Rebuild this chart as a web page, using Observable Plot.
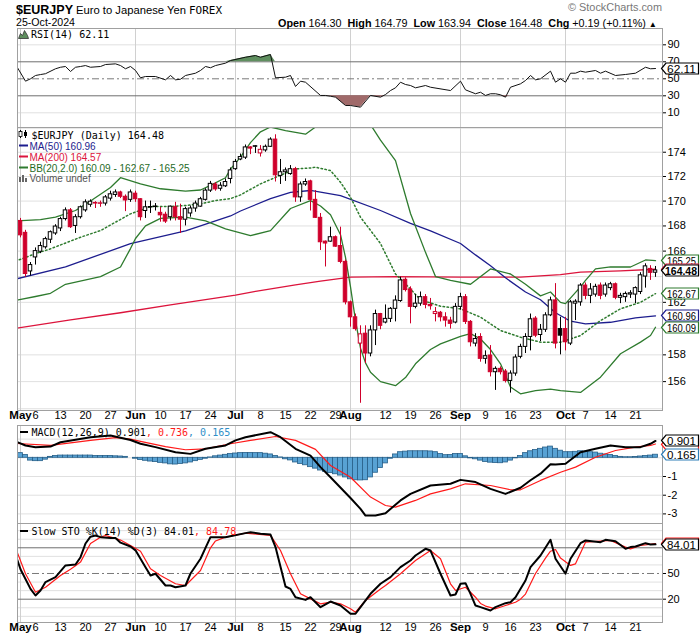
<!DOCTYPE html>
<html><head><meta charset="utf-8">
<script src="https://cdn.jsdelivr.net/npm/d3@7"></script>
<script src="https://cdn.jsdelivr.net/npm/@observablehq/plot@0.6"></script>
<style>
html,body{margin:0;padding:0;background:#fff;}
#chart{position:relative;width:700px;height:639px;overflow:hidden;background:#fff;}
#chart svg{position:absolute;left:0;}
</style></head><body><div id="chart"></div>
<script>
// ---------------- DATA ----------------
// trading-day index 0 = 1 May 2024 ... 127 = 25 Oct 2024
const prevClose = 168.50;
const openP = [168.40,167.45,164.40,165.50,165.95,166.30,166.90,167.40,167.80,168.55,
169.25,168.00,168.70,169.25,169.70,169.80,169.78,169.80,170.20,170.50,
170.70,170.35,170.10,170.60,170.15,169.20,169.48,169.52,169.05,168.90,
168.70,169.50,168.70,168.50,169.00,169.40,169.55,170.10,170.85,171.35,
171.00,171.20,171.80,172.60,173.40,173.55,174.40,174.45,173.90,174.15,
174.45,175.05,172.05,172.35,172.20,172.60,170.30,171.35,171.60,170.10,
168.65,166.75,166.75,167.10,166.40,165.15,162.00,160.85,158.85,159.60,
158.10,159.85,161.10,160.45,160.73,161.50,162.10,163.75,163.00,161.65,
161.90,162.40,161.80,161.10,161.20,160.85,160.60,160.45,161.65,162.40,
160.50,158.85,159.35,157.70,157.95,156.70,156.95,156.75,156.05,156.60,
157.85,158.60,159.35,160.75,159.50,159.90,161.00,162.15,159.95,159.95,
158.85,161.90,162.00,163.30,162.50,162.60,163.30,162.60,163.10,163.40,
162.35,162.40,162.60,162.60,162.80,164.00,164.60,164.30];
const highP = [168.60,167.65,165.10,166.25,166.70,167.10,167.60,168.10,168.70,169.45,
169.40,168.90,169.60,170.10,170.10,169.95,170.00,170.45,170.80,170.90,
170.80,170.50,170.90,170.80,170.20,170.00,170.00,169.80,169.50,169.10,
169.60,169.90,169.75,169.50,169.60,170.00,170.30,171.00,171.60,171.50,
171.50,171.80,172.70,173.40,173.85,174.60,174.45,174.55,174.55,174.60,
175.20,175.45,173.40,172.70,172.90,172.75,171.55,171.80,171.70,170.85,
169.00,166.80,167.90,167.20,167.90,165.30,162.10,161.10,160.20,160.20,
160.20,161.40,161.15,161.80,161.60,162.50,163.95,163.90,163.20,162.60,
162.80,162.60,162.30,161.60,161.30,161.20,160.85,161.90,162.70,162.60,
160.60,159.60,159.60,158.30,158.70,157.10,157.10,156.90,156.80,158.00,
158.80,159.60,161.10,160.90,160.30,161.20,162.40,163.45,160.85,160.85,
162.15,162.20,163.45,163.50,163.45,163.40,163.50,163.50,163.55,163.50,
162.70,162.80,162.90,163.20,164.30,165.00,164.85,164.79];
const lowP = [167.05,163.95,164.05,164.90,165.80,166.15,166.60,167.25,167.55,168.40,
167.80,167.40,168.55,169.10,169.50,169.40,169.50,169.60,170.00,170.30,
170.20,169.15,169.90,169.90,168.40,168.60,169.00,169.20,168.30,168.20,
168.40,168.40,167.40,168.00,168.70,169.10,169.50,170.00,170.70,170.80,
170.80,171.10,171.40,172.50,173.30,173.40,173.80,173.90,173.60,174.00,
174.40,171.55,171.35,171.60,172.10,169.90,169.90,171.20,169.20,168.60,
166.05,164.75,166.70,166.30,165.00,161.80,160.10,159.80,154.40,157.35,
157.85,158.70,159.90,160.35,160.45,160.50,162.00,162.80,160.35,161.50,
161.70,161.50,161.40,160.50,160.50,160.10,159.95,160.35,161.40,160.30,
158.60,158.60,157.45,157.30,156.35,155.35,156.50,155.90,155.15,156.40,
157.70,158.10,158.30,159.30,159.00,159.70,160.90,158.45,158.00,158.30,
158.70,160.60,161.70,162.20,161.90,162.40,162.20,162.40,162.90,162.20,
161.90,162.00,162.30,161.90,162.60,163.10,163.70,163.94];
const closeP = [167.25,164.20,164.90,166.00,166.40,166.95,167.50,167.95,168.55,169.25,
167.90,168.70,169.50,169.90,169.95,169.85,169.82,170.30,170.55,170.70,
170.35,170.05,170.70,170.15,168.70,169.50,169.52,169.56,168.85,168.35,
169.55,168.70,168.50,169.35,169.40,169.80,170.15,170.85,171.40,170.95,
171.25,171.55,172.50,173.20,173.60,174.40,174.30,174.50,174.20,174.45,
175.05,172.10,172.35,172.50,172.60,170.30,171.35,171.55,170.10,168.65,
166.70,166.60,167.10,166.35,165.15,162.00,160.85,159.95,159.55,158.10,
159.85,161.10,160.20,160.73,161.50,162.14,163.70,162.95,161.65,161.90,
162.40,161.80,161.70,161.25,160.85,160.60,160.35,161.65,162.40,160.50,
158.95,159.20,157.70,157.90,156.70,156.95,156.70,156.05,156.60,157.80,
158.60,159.35,160.70,159.45,159.90,161.00,162.15,158.85,159.45,158.95,
162.00,162.05,163.30,162.50,163.00,163.20,162.50,163.30,163.40,162.35,
162.50,162.65,162.70,163.10,164.10,164.80,164.29,164.48];

const ma50Pts = [[-1,163.8],[9,164.75],[22,166.6],[33,167.6],[42,168.8],[44,169.2],[50,170.2],[54,170.7],[58,170.86],[64,170.45],[72,169.24],[78,168.2],[82,167.6],[88,166.6],[91,165.7],[94,164.85],[97,163.9],[101,162.8],[104,162.2],[107,161.2],[110,160.55],[113,160.35],[118,160.47],[123,160.8],[127,160.96]];
const ma200Pts = [[-1,160.0],[10,160.65],[20,161.2],[30,161.8],[43,162.55],[47,162.85],[55,163.35],[60,163.65],[66,163.95],[75,164.0],[88,163.95],[100,163.95],[108,164.15],[112,164.35],[120,164.45],[127,164.57]];
const bbUpPts = [[-1,168.4],[4,168.5],[7,168.7],[11,169.24],[14,170.0],[18,171.1],[20,171.9],[24,171.4],[28,171.0],[33,170.8],[36,170.9],[38,171.27],[41,171.9],[42,172.6],[44,173.6],[46,174.8],[48,175.7],[50,176.1],[53,175.8],[57,175.5],[59,176.1],[61,176.8],[64,177.3],[67,177.0],[69,176.5],[70,176.3],[72,175.0],[75,173.3],[78,169.0],[81,165.9],[83,164.0],[86,163.7],[90,163.4],[94,164.6],[98,164.2],[101,163.4],[104,162.5],[106,162.8],[108,162.0],[109,161.9],[112,163.2],[113,163.7],[115,164.6],[118,164.75],[122,164.75],[125,165.3],[127,165.25]];
const bbMidPts = [[-1,165.2],[3,165.8],[6,166.18],[12,167.1],[16,167.63],[22,168.97],[26,169.56],[30,169.56],[33,169.64],[36,169.77],[39,170.04],[42,170.2],[44,170.5],[48,171.4],[55,172.63],[58,172.7],[59,172.76],[62,172.49],[64,171.53],[66,170.31],[68,168.7],[72,166.6],[75,164.2],[77,163.43],[80,162.2],[84,161.7],[88,161.5],[92,160.86],[96,159.84],[100,159.33],[104,158.96],[108,158.96],[112,159.46],[116,160.6],[120,161.5],[124,162.0],[127,162.67]];
const bbLoPts = [[-1,162.15],[3,162.45],[6,162.7],[9,163.4],[16,164.0],[20,164.75],[22,166.2],[23,167.0],[25,168.0],[28,168.6],[33,168.7],[37,168.4],[41,167.77],[46,167.23],[50,167.63],[54,169.4],[58,170.04],[60,169.6],[62,168.9],[64,167.3],[65,165.5],[66,163.2],[67,160.6],[68,158.5],[69,157.4],[70,156.7],[72,156.0],[75,155.7],[77,156.3],[79,157.33],[82,158.4],[84,158.83],[88,159.4],[90,159.6],[92,159.2],[94,158.4],[96,157.33],[98,155.6],[100,155.1],[103,155.33],[106,155.45],[108,155.33],[112,155.2],[116,156.33],[120,158.08],[124,158.96],[126,159.46],[127,160.09]];

const rsiPts = [[-1,67],[1,47.2],[2,50],[3,53.9],[4,55],[5,56],[7,61.8],[8,63.6],[9,64.5],[10,58.6],[11,63.6],[12,64.5],[13,65.6],[14,63.6],[16,64.5],[17,66.8],[19,67.6],[20,65.6],[21,61.8],[22,64.5],[23,59.8],[24,51.2],[25,52.7],[27,52.7],[29,48.8],[30,53.9],[31,48.8],[32,49.5],[33,53.9],[35,56.6],[36,59.8],[37,64.5],[38,63],[39,65.6],[41,68.4],[42,71.5],[45,75.4],[47,77.4],[48,75.4],[50,78.6],[51,51.2],[53,51.9],[54,53.9],[55,41],[56,47.2],[57,46],[60,30.4],[61,30.4],[62,29.5],[63,28.4],[65,18.6],[66,18.6],[68,16.6],[70,30.4],[72,28.4],[73,31.5],[74,36.2],[75,39.4],[76,46],[77,43.3],[78,42.1],[79,39.4],[81,42.1],[82,40.1],[86,36.2],[88,47.2],[89,37],[91,32.4],[92,34.2],[93,30.4],[94,32.4],[95,32.4],[96,31.2],[97,28.4],[98,40.1],[100,44.1],[101,48],[102,53.9],[103,48.8],[104,50],[106,59],[107,46],[108,50],[109,46],[110,56.6],[111,56.6],[112,59],[113,57.8],[115,59.8],[116,56.6],[117,59],[119,53.9],[121,55.1],[123,56.6],[125,63.6],[126,61.8],[127,62.11]];

const macdPts = [[-1,0.88],[1,0.66],[3,0.57],[6,0.6],[8,0.83],[11,0.96],[14,1.1],[18,1.19],[22,0.95],[24,0.75],[27,0.57],[31,0.3],[34,0.21],[37,0.48],[41,0.66],[43,0.93],[45,1.1],[50,1.37],[52,1.1],[55,0.48],[58,0.12],[60,-0.5],[62,-1.04],[66,-2.15],[68,-2.73],[69,-3.09],[71,-3.09],[73,-2.96],[76,-2.28],[78,-1.93],[82,-1.48],[86,-1.39],[88,-1.18],[91,-1.3],[94,-1.66],[97,-1.93],[100,-1.6],[102,-1.2],[104,-0.85],[106,-0.35],[107,-0.36],[109,-0.32],[112,0.3],[115,0.48],[118,0.66],[121,0.57],[124,0.57],[126,0.75],[127,0.901]];
const signalPts = [[-1,0.77],[6,0.66],[14,0.93],[19,1.08],[22,1.0],[24,0.88],[29,0.6],[33,0.43],[37,0.48],[42,0.75],[46,0.93],[51,1.14],[55,0.93],[58,0.57],[59,0.45],[62,-0.41],[66,-1.04],[70,-2.1],[73,-2.55],[75,-2.64],[79,-2.28],[82,-1.93],[86,-1.66],[89,-1.39],[94,-1.48],[98,-1.71],[100,-1.71],[104,-1.21],[108,-0.77],[111,-0.5],[115,0.03],[119,0.39],[123,0.57],[126,0.66],[127,0.736]];
const histV = [0.25,0.15,-0.15,-0.18,-0.18,-0.1,0.05,0.1,0.12,0.12,
0.12,0.12,0.12,0.12,0.12,0.1,0.1,0.1,0.1,0.08,
0.07,0.05,0,-0.05,-0.12,-0.16,-0.2,-0.23,-0.27,-0.3,
-0.35,-0.36,-0.33,-0.3,-0.25,-0.18,-0.11,-0.05,0.02,0.08,
0.12,0.16,0.2,0.23,0.25,0.26,0.26,0.25,0.25,0.22,
0.18,0.1,0.02,-0.08,-0.14,-0.25,-0.33,-0.4,-0.5,-0.58,
-0.68,-0.75,-0.82,-0.88,-0.95,-1.05,-1.15,-1.2,-1.21,-1.2,
-1.05,-0.8,-0.55,-0.3,-0.05,0.18,0.3,0.33,0.35,0.35,
0.35,0.35,0.34,0.3,0.2,0.14,0.15,0.2,0.2,0.08,
-0.03,-0.08,-0.15,-0.22,-0.26,-0.28,-0.29,-0.25,-0.15,-0.03,
0.1,0.25,0.35,0.42,0.48,0.55,0.6,0.48,0.38,0.3,
0.3,0.32,0.35,0.33,0.3,0.28,0.22,0.18,0.15,0.1,
0.05,0.03,0.03,0.04,0.07,0.1,0.12,0.165];

const stoKPts = [[-1,72],[0,55],[2,32],[3,24.3],[4,30.2],[5,40],[7,45.8],[9,59.4],[11,60.5],[12,69],[13,85],[14,93],[15,94.4],[16,92.4],[18,91.3],[19,91.3],[20,86],[22,81.5],[23,77],[25,57.4],[26,47.7],[27,49.7],[29,36],[30,36],[31,34],[33,36],[34,50],[36,67.2],[37,80],[38,92.4],[41,92.4],[45,97.1],[46,98.2],[48,96.3],[50,95.5],[51,80.8],[53,34.8],[54,32],[55,22.3],[57,19.2],[58,22.3],[60,10.7],[62,17.3],[64,12.6],[66,3],[67,3],[68,10.7],[70,26.3],[72,38],[74,45.8],[76,57.4],[78,65.2],[79,71],[81,78.8],[82,76.8],[84,49.7],[86,24.3],[87,25.5],[88,38],[89,38.7],[90,26.3],[91,12.6],[92,10.7],[94,6.8],[95,10.7],[97,15.4],[98,16.5],[99,22.3],[101,41.8],[102,57.4],[104,71],[106,89.3],[107,67.2],[109,49.7],[110,67.2],[112,85.4],[113,88.5],[116,86.6],[117,89.3],[119,87.7],[121,78.8],[122,80.8],[123,81.5],[125,85.4],[126,83.8],[127,84.01]];
const stoDPts = [[-1,80],[1,49.7],[3,28.2],[5,34],[8,47.7],[10,55],[11,59],[12,63.3],[14,85],[16,92.4],[17,94.4],[19,91],[20,89],[22,82.7],[24,76],[26,55.5],[28,47.7],[31,38],[33,36],[36,53.5],[38,80],[39,88],[41,92.4],[45,97.1],[50,94.4],[52,76.8],[54,49.7],[56,26.3],[58,20.4],[60,14.6],[62,16.5],[64,14.6],[66,8.8],[67,4.9],[69,18.5],[72,32],[73,36],[76,49.7],[79,65.2],[82,76.8],[84,67.2],[86,38],[87,30.2],[89,34],[91,22.3],[92,15],[93,12],[95,8.8],[97,12.6],[99,16.5],[100,20],[101,26],[102,38],[103,50],[105,68],[106,76],[107,78],[108,68],[110,59.4],[111,61.3],[113,86.6],[116,87.7],[118,88.5],[121,80.8],[122,78.8],[124,82.7],[127,84.78]];

const monthIdx = [0,23,43,66,88,109];
const monthLbl = ["May","Jun","Jul","Aug","Sep","Oct"];
const dayIdx = [3,8,13,18,28,33,38,48,53,58,63,73,78,83,93,98,103,113,118,123];
const dayLbl = ["6","13","20","27","10","17","24","8","15","22","29","12","19","26","9","16","23","7","14","21"];
const priceTicks = [156,158,162,166,168,170,172,174];      // 160 and 164 sit under value tags
const priceGrid = [154,156,158,160,162,164,166,168,170,172,174,176];
const rsiTicks = [10,30,50,70,90];
const macdTicks = [-1,-2,-3];                               // 0 and 1 sit under value tags
const macdGrid = [1,0,-1,-2,-3];
const stoTicks = [20,50];                                   // 80 sits under value tags

// ---------------- STYLE ----------------
const SANS = "'Liberation Sans', Arial, Helvetica, sans-serif";
const MONO = "'DejaVu Sans Mono', 'Liberation Mono', monospace";
const RED = "#cf002b", MA200C = "#dc143c", MA50C = "#1d1d8e", BBC = "#2e7b2e";
const GRID = "#e0e0e0", MGRID = "#d0d0d0", FRAME = "#a0a0a0", REFL = "#6e6e6e";
const W = 700, ML = 17, MR = 38;
const xDomain = [-0.6, 128.4];
const baseStyle = {fontFamily: SANS, fontSize: "11px", background: "transparent", overflow: "visible"};
const chart = document.getElementById("chart");

function place(svg, top) { svg.style.top = top + "px"; svg.style.left = "0px"; chart.appendChild(svg); return svg; }
const pts = a => a.map(([i, v]) => ({i, v}));

// value tag on the right axis; label null = tag hidden behind a neighbour (only its border peeks out)
function tag(plot, value, label, color, bold) {
  const y = Math.round(plot.scale("y").apply(value)) + 0.5;
  const g = d3.select(plot).append("g");
  g.append("path").attr("d", `M661.5,${y} L666,${y-5.5} L698.5,${y-5.5} L698.5,${y+5.5} L666,${y+5.5} Z`)
    .attr("fill", "#fff").attr("stroke", color).attr("stroke-width", 1.2);
  if (label) g.append("text").attr("x", bold ? 665 : 667).attr("y", y + 4).text(label).attr("text-anchor", "start")
    .attr("font-family", SANS).attr("font-size", bold ? 11.5 : 10.5).attr("font-weight", bold ? "bold" : "normal").attr("fill", "#000")
    .attr("textLength", bold ? 32 : 29).attr("lengthAdjust", "spacingAndGlyphs");
}

const candles = closeP.map((c, i) => {
  const pc = i ? closeP[i - 1] : prevClose;
  const col = c >= pc ? "#000000" : RED;
  return {i, o: openP[i], h: highP[i], l: lowP[i], c, col, fill: c < openP[i] ? col : "#ffffff"};
});
const monthTicks = monthIdx.map((i, k) => ({i, t: monthLbl[k]}));
const dayTicks = dayIdx.map((i, k) => ({i, t: dayLbl[k]}));
const yAxis = ticks => Plot.axisY({ticks, anchor: "right", tickSize: 3, tickPadding: 2, fontSize: 11, label: null, tickFormat: d => String(d)});
const xLabels = () => [
  Plot.text(monthTicks, {x: "i", text: "t", frameAnchor: "bottom", dy: 8, fontWeight: "bold", fontSize: 11.5}),
  Plot.text(dayTicks, {x: "i", text: "t", frameAnchor: "bottom", dy: 8, fontSize: 11})
];

// ---------------- RSI PANEL ----------------
const rsi = pts(rsiPts);
const rsiPlot = Plot.plot({
  width: W, height: 99, marginTop: 0, marginBottom: 0, marginLeft: ML, marginRight: MR, style: baseStyle,
  x: {domain: xDomain, axis: null}, y: {domain: [-7.3, 109.2], axis: null},
  marks: [
    Plot.ruleY([10, 90], {stroke: GRID}),
    Plot.ruleX(monthIdx, {stroke: MGRID}),
    Plot.ruleY([70, 30], {stroke: REFL}),
    Plot.ruleY([50], {stroke: "#7a7a7a", strokeDasharray: "7,3,2,3"}),
    Plot.areaY(rsi, {x: "i", y1: () => 70, y2: d => Math.max(70, d.v), fill: "#5f8f5f", clip: true}),
    Plot.areaY(rsi, {x: "i", y1: () => 30, y2: d => Math.min(30, d.v), fill: "#a06a6a", clip: true}),
    Plot.line(rsi, {x: "i", y: "v", stroke: "#111", strokeWidth: 1, clip: true}),
    Plot.frame({stroke: FRAME}),
    yAxis(rsiTicks)
  ]
});
place(rsiPlot, 28);
tag(rsiPlot, 62.11, "62.11", "#000", false);

// ---------------- PRICE PANEL ----------------
const mainPlot = Plot.plot({
  width: W, height: 299, marginTop: 0, marginBottom: 16, marginLeft: ML, marginRight: MR, style: baseStyle,
  x: {domain: xDomain, axis: null}, y: {type: "log", domain: [153.87, 176.06], axis: null},
  marks: [
    Plot.ruleY(priceGrid, {stroke: GRID}),
    Plot.ruleX(monthIdx, {stroke: MGRID}),
    Plot.line(pts(ma200Pts), {x: "i", y: "v", stroke: MA200C, strokeWidth: 1.3, clip: true}),
    Plot.line(pts(ma50Pts), {x: "i", y: "v", stroke: MA50C, strokeWidth: 1.3, clip: true}),
    Plot.line(pts(bbUpPts), {x: "i", y: "v", stroke: BBC, strokeWidth: 1.3, clip: true}),
    Plot.line(pts(bbLoPts), {x: "i", y: "v", stroke: BBC, strokeWidth: 1.3, clip: true}),
    Plot.line(pts(bbMidPts), {x: "i", y: "v", stroke: BBC, strokeWidth: 1.5, strokeDasharray: "1.5,2.5", clip: true}),
    Plot.ruleX(candles, {x: "i", y1: "l", y2: "h", stroke: "col", strokeWidth: 1}),
    Plot.rect(candles, {x1: d => d.i - 0.35, x2: d => d.i + 0.35, y1: "o", y2: "c", fill: "fill", stroke: "col", strokeWidth: 1}),
    Plot.frame({stroke: FRAME}),
    yAxis(priceTicks),
    ...xLabels()
  ]
});
place(mainPlot, 127);
tag(mainPlot, 165.25, "165.25", BBC, false);
tag(mainPlot, 164.57, null, MA200C, false);
tag(mainPlot, 164.48, "164.48", "#000", true);
tag(mainPlot, 162.67, "162.67", BBC, false);
tag(mainPlot, 160.96, "160.96", MA50C, false);
tag(mainPlot, 160.09, "160.09", BBC, false);

// ---------------- MACD PANEL ----------------
const macdPlot = Plot.plot({
  width: W, height: 98, marginTop: 0, marginBottom: 0, marginLeft: ML, marginRight: MR, style: baseStyle,
  x: {domain: xDomain, axis: null}, y: {domain: [-3.513, 1.727], axis: null},
  marks: [
    Plot.ruleY(macdGrid, {stroke: GRID}),
    Plot.ruleX(monthIdx, {stroke: MGRID}),
    Plot.rect(histV.map((v, i) => ({i, v})), {x1: d => d.i - 0.5, x2: d => d.i + 0.5, y1: () => 0, y2: "v", fill: "#58a2d4", stroke: "#275f88", strokeWidth: 0.8}),
    Plot.line(pts(signalPts), {x: "i", y: "v", stroke: "#ff1a1a", strokeWidth: 1.2, clip: true}),
    Plot.line(pts(macdPts), {x: "i", y: "v", stroke: "#000", strokeWidth: 2, clip: true}),
    Plot.frame({stroke: FRAME}),
    yAxis(macdTicks)
  ]
});
place(macdPlot, 425);
tag(macdPlot, 0.736, null, "#ff1a1a", false);
tag(macdPlot, 0.901, "0.901", "#000", false);
tag(macdPlot, 0.165, "0.165", "#2f7fb8", false);

// ---------------- SLOW STO PANEL ----------------
const stoPlot = Plot.plot({
  width: W, height: 115, marginTop: 0, marginBottom: 16, marginLeft: ML, marginRight: MR, style: baseStyle,
  x: {domain: xDomain, axis: null}, y: {domain: [-7.19, 108.35], axis: null},
  marks: [
    Plot.ruleY([0, 10, 30, 40, 60, 70, 90, 100], {stroke: GRID}),
    Plot.ruleX(monthIdx, {stroke: MGRID}),
    Plot.ruleY([80, 20], {stroke: REFL}),
    Plot.ruleY([50], {stroke: "#7a7a7a", strokeDasharray: "7,3,2,3"}),
    Plot.line(pts(stoDPts), {x: "i", y: "v", stroke: "#ff1a1a", strokeWidth: 1.2, clip: true}),
    Plot.line(pts(stoKPts), {x: "i", y: "v", stroke: "#000", strokeWidth: 2, clip: true}),
    Plot.frame({stroke: FRAME}),
    yAxis(stoTicks),
    ...xLabels()
  ]
});
place(stoPlot, 523);
tag(stoPlot, 84.78, null, "#ff1a1a", false);
tag(stoPlot, 84.01, "84.01", "#000", false);

// ---------------- TITLES & LEGENDS ----------------
const ov = d3.select(chart).append("svg").attr("width", 700).attr("height", 639).style("top", "0px").style("pointer-events", "none");
function txt(x, y, s, o = {}) {
  const t = ov.append("text").attr("x", x).attr("y", y).text(s)
    .attr("font-family", o.ff || SANS).attr("font-size", o.fs || 11).attr("font-weight", o.fw || "normal")
    .attr("fill", o.fill || "#000").attr("text-anchor", o.anchor || "start");
  if (o.len) t.attr("textLength", o.len).attr("lengthAdjust", "spacingAndGlyphs");
  return t;
}
txt(16, 14, "$EURJPY", {fs: 13, fw: "bold", len: 57});
txt(76, 14, "Euro to Japanese Yen", {fs: 11.3, len: 110});
txt(189, 14, "FOREX", {ff: MONO, fs: 11, len: 33});
txt(662, 11, "\u00A9 StockCharts.com", {fs: 10.5, fill: "#777", anchor: "end", len: 94});
txt(16, 26, "25-Oct-2024", {fs: 10.5, len: 59});
const info = ov.append("text").attr("x", 657).attr("y", 26.5).attr("text-anchor", "end")
  .attr("font-family", SANS).attr("font-size", 11).style("white-space", "pre")
  .attr("textLength", 379).attr("lengthAdjust", "spacingAndGlyphs");
[["Open", 1], [" 164.30  ", 0], ["High", 1], [" 164.79  ", 0], ["Low", 1], [" 163.94  ", 0], ["Close", 1], [" 164.48  ", 0], ["Chg", 1], [" +0.19 (+0.11%) ", 0], ["\u25B2", 0]]
  .forEach(([s, b]) => info.append("tspan").text(s).attr("font-weight", b ? "bold" : "normal").attr("font-size", s === "\u25B2" ? 8 : 10.5));

// RSI legend
ov.append("path").attr("d", "M18.5,38.5 L20.5,33.5 L22.5,35.5 L24.5,30.5 L27.5,35.5 L28.5,38.5 Z").attr("fill", "#5f8f5f").attr("stroke", "#333").attr("stroke-width", 0.8);
txt(31, 38, "RSI(14) 62.11", {ff: MONO, fs: 10});

// price legend
ov.append("line").attr("x1", 20.5).attr("x2", 20.5).attr("y1", 130).attr("y2", 138).attr("stroke", "#000");
ov.append("rect").attr("x", 19).attr("y", 131.5).attr("width", 3).attr("height", 5).attr("fill", "#fff").attr("stroke", "#000").attr("stroke-width", 0.8);
ov.append("line").attr("x1", 25.5).attr("x2", 25.5).attr("y1", 130).attr("y2", 138).attr("stroke", "#000");
ov.append("rect").attr("x", 24).attr("y", 132).attr("width", 3).attr("height", 4).attr("fill", "#000");
txt(31.5, 138.5, "$EURJPY (Daily) 164.48", {ff: MONO, fs: 10});
ov.append("line").attr("x1", 19).attr("x2", 28).attr("y1", 145.5).attr("y2", 145.5).attr("stroke", MA50C).attr("stroke-width", 2);
txt(29.5, 149.5, "MA(50) 160.96", {fs: 10, fill: MA50C});
ov.append("line").attr("x1", 19).attr("x2", 28).attr("y1", 156.5).attr("y2", 156.5).attr("stroke", MA200C).attr("stroke-width", 2);
txt(29.5, 160.5, "MA(200) 164.57", {fs: 10, fill: MA200C});
ov.append("line").attr("x1", 19).attr("x2", 28).attr("y1", 167.5).attr("y2", 167.5).attr("stroke", BBC).attr("stroke-width", 2);
txt(29.5, 171.5, "BB(20,2.0) 160.09 - 162.67 - 165.25", {fs: 10, fill: "#1f6b1f"});
[[19, 177], [22, 175], [25, 178]].forEach(([x, y]) => ov.append("rect").attr("x", x).attr("y", y).attr("width", 2).attr("height", 182 - y).attr("fill", "#666"));
txt(29.5, 182, "Volume undef", {fs: 10, fill: "#555"});

// MACD legend
ov.append("line").attr("x1", 20).attr("x2", 28).attr("y1", 432).attr("y2", 432).attr("stroke", "#000").attr("stroke-width", 2);
const ml = ov.append("text").attr("x", 31.5).attr("y", 436).attr("font-family", MONO).attr("font-size", 10);
ml.append("tspan").text("MACD(12,26,9) 0.901").attr("fill", "#000");
ml.append("tspan").text(", 0.736").attr("fill", "#ff1a1a");
ml.append("tspan").text(", 0.165").attr("fill", "#2f8fc8");

// STO legend
ov.append("line").attr("x1", 20).attr("x2", 28).attr("y1", 531).attr("y2", 531).attr("stroke", "#000").attr("stroke-width", 2);
const sl = ov.append("text").attr("x", 31.5).attr("y", 535).attr("font-family", MONO).attr("font-size", 10);
sl.append("tspan").text("Slow STO %K(14) %D(3) 84.01").attr("fill", "#000");
sl.append("tspan").text(", 84.78").attr("fill", "#ff1a1a");
</script></body></html>
